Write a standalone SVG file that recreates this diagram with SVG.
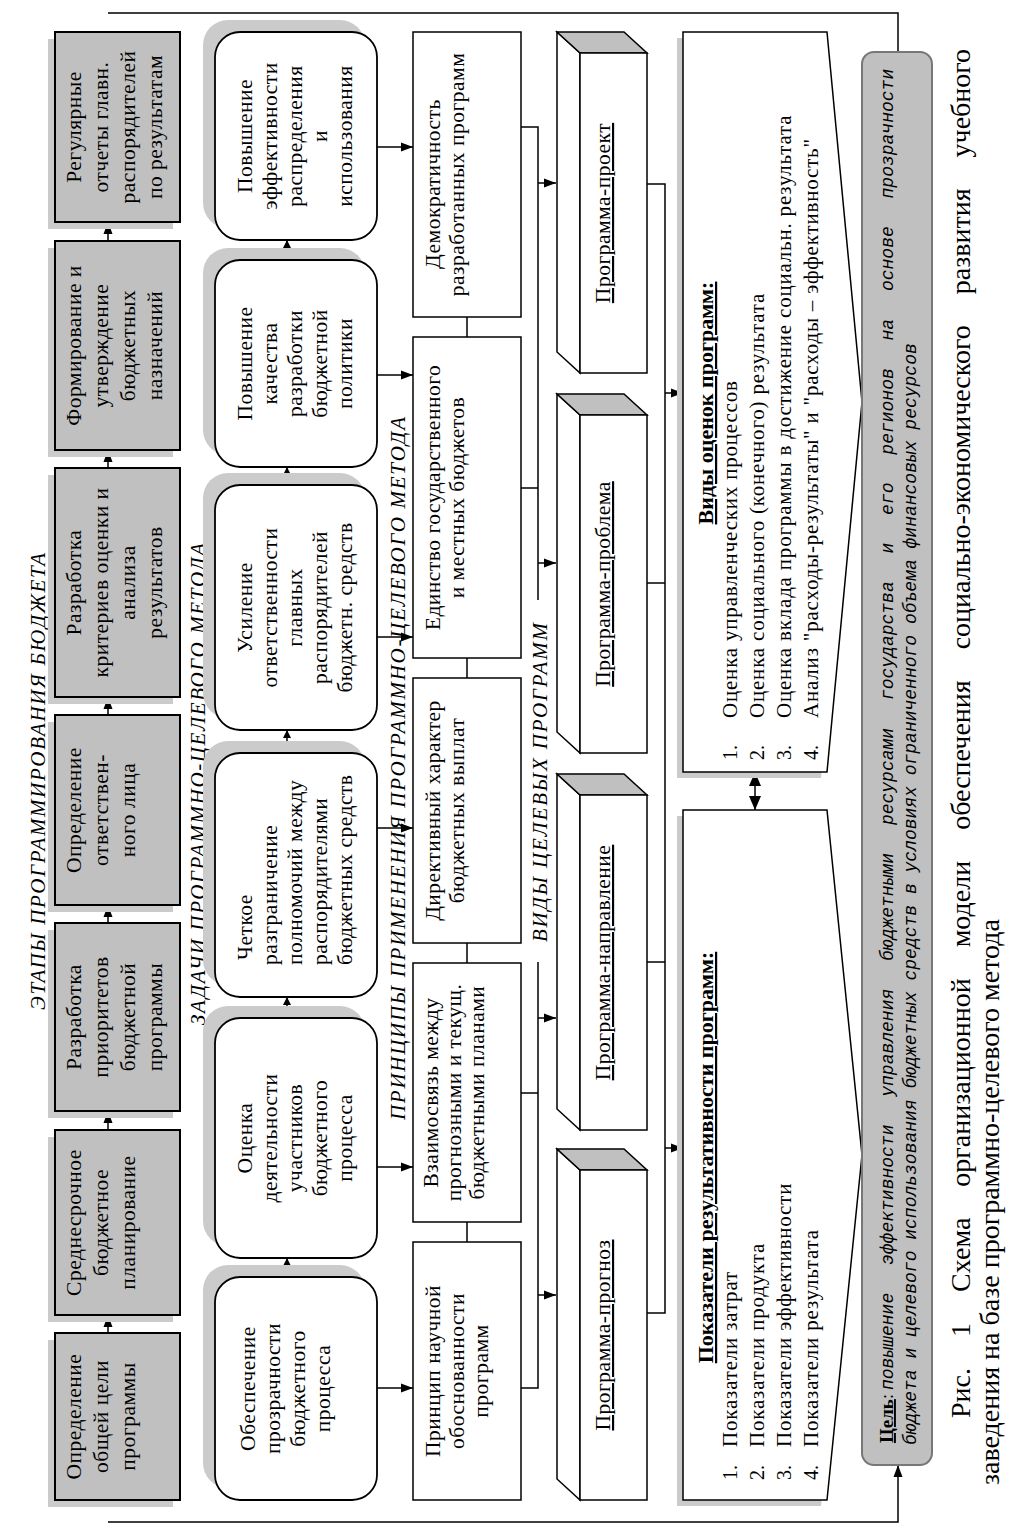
<svg xmlns="http://www.w3.org/2000/svg" width="1024" height="1536" viewBox="0 0 1024 1536">
<defs>
<style>
.stage{fill:#c0c0c0;stroke:#000;stroke-width:2}
.sh{fill:#cbcbcb}
.task{fill:#fff;stroke:#000;stroke-width:1.8}
.box{fill:#fff;stroke:#000;stroke-width:1.5}
.topf{fill:#c0c0c0;stroke:#000;stroke-width:1.5}
.goal{fill:#c0c0c0;stroke:#777;stroke-width:2}
.ln{fill:none;stroke:#000;stroke-width:1.5}
.m{font-family:"Liberation Serif","Times New Roman",serif;font-size:21.5px;letter-spacing:0.5px;fill:#000}
.mc{text-anchor:middle}
.ul{text-decoration:underline}
.lbl{font-family:"Liberation Serif",serif;font-style:italic;font-size:21px;text-anchor:middle;fill:#000}
.ttl{font-family:"Liberation Serif",serif;font-weight:bold;font-size:22px;text-decoration:underline;text-anchor:middle;fill:#000}
.num{font-family:"Liberation Serif",serif;font-size:20px;fill:#000}
.li{font-family:"Liberation Serif",serif;font-size:21px;letter-spacing:0.8px;fill:#000}
.gi{font-family:"Liberation Mono",monospace;font-style:italic;font-size:18px;fill:#000}
.cap{font-family:"Liberation Serif",serif;font-size:28px;fill:#000}
</style>
<marker id="ar" viewBox="0 0 12 10" refX="12" refY="5" markerWidth="12" markerHeight="10" markerUnits="userSpaceOnUse" orient="auto-start-reverse"><path d="M0,0.5L12,5L0,9.5z" fill="#000"/></marker>
<marker id="sm" viewBox="0 0 8 8" refX="8" refY="4" markerWidth="8" markerHeight="8" markerUnits="userSpaceOnUse" orient="auto-start-reverse"><path d="M0,0L8,4L0,8z" fill="#000"/></marker>
<marker id="bg" viewBox="0 0 14 12" refX="14" refY="6" markerWidth="14" markerHeight="12" markerUnits="userSpaceOnUse" orient="auto-start-reverse"><path d="M0,0L14,6L0,12z" fill="#000"/></marker>
</defs>
<rect width="1024" height="1536" fill="#fff"/>

<!-- section labels -->
<g id="labels" transform="translate(0 1536) rotate(-90)">
<text class="lbl" x="754.5" y="45" textLength="457" lengthAdjust="spacing">ЭТАПЫ ПРОГРАММИРОВАНИЯ БЮДЖЕТА</text>
<text class="lbl" x="752" y="205" textLength="482" lengthAdjust="spacing">ЗАДАЧИ ПРОГРАММНО-ЦЕЛЕВОГО МЕТОДА</text>
<text class="lbl" x="767.5" y="405" textLength="703" lengthAdjust="spacing">ПРИНЦИПЫ ПРИМЕНЕНИЯ ПРОГРАММНО-ЦЕЛЕВОГО МЕТОДА</text>
<text class="lbl" x="753.5" y="547" textLength="319" lengthAdjust="spacing">ВИДЫ ЦЕЛЕВЫХ ПРОГРАММ</text>
</g>

<!-- connectors -->
<g id="connectors" class="ln">
<path d="M108,13H898V52"/>
<path d="M108,1522H898V1465" marker-end="url(#ar)"/>
<path d="M108,1333V1315" marker-end="url(#ar)"/>
<path d="M108,1130V1111" marker-end="url(#ar)"/>
<path d="M108,923V905" marker-end="url(#ar)"/>
<path d="M108,715V697" marker-end="url(#ar)"/>
<path d="M108,468V450" marker-end="url(#ar)"/>
<path d="M108,241V222" marker-end="url(#ar)"/>
<path d="M287,240V260" marker-start="url(#sm)" marker-end="url(#sm)"/>
<path d="M287,467V485" marker-start="url(#sm)" marker-end="url(#sm)"/>
<path d="M287,730V753" marker-start="url(#sm)" marker-end="url(#sm)"/>
<path d="M287,997V1018" marker-start="url(#sm)" marker-end="url(#sm)"/>
<path d="M287,1258V1277" marker-start="url(#sm)" marker-end="url(#sm)"/>
<path d="M377,147H413" marker-end="url(#ar)"/>
<path d="M377,375H413" marker-end="url(#ar)"/>
<path d="M377,637H413" marker-end="url(#ar)"/>
<path d="M377,828H413" marker-end="url(#ar)"/>
<path d="M377,1167H413" marker-end="url(#ar)"/>
<path d="M377,1388H413" marker-end="url(#ar)"/>
<path d="M467,317V337M467,658V678M467,943V963M467,1222V1242"/>
<path d="M521,127H538V600M521,488H538"/>
<path d="M538,183H556" marker-end="url(#ar)"/>
<path d="M538,563H556" marker-end="url(#ar)"/>
<path d="M538,962V1388H521M521,1093H538"/>
<path d="M538,1018H556" marker-end="url(#ar)"/>
<path d="M538,1295H556" marker-end="url(#ar)"/>
<path d="M647,184H665V1313H647M647,583H665M647,962H665"/>
<path d="M665,393H683" marker-end="url(#ar)"/>
<path d="M665,1148H683" marker-end="url(#ar)"/>
<path d="M755,772V810" marker-start="url(#bg)" marker-end="url(#bg)"/>
</g>

<!-- stages -->
<g id="stage1"><rect class="sh" x="48" y="39" width="125" height="190"/><rect class="stage" x="55" y="32" width="125" height="190"/>
<text class="m mc" transform="translate(0 1536) rotate(-90)"><tspan x="1409" y="81">Регулярные</tspan><tspan x="1409" y="108">отчеты главн.</tspan><tspan x="1409" y="135">распорядителей</tspan><tspan x="1409" y="162">по результатам</tspan></text></g>
<g id="stage2"><rect class="sh" x="48" y="248" width="125" height="209"/><rect class="stage" x="55" y="241" width="125" height="209"/>
<text class="m mc" transform="translate(0 1536) rotate(-90)"><tspan x="1190.5" y="81">Формирование и</tspan><tspan x="1190.5" y="108">утверждение</tspan><tspan x="1190.5" y="135">бюджетных</tspan><tspan x="1190.5" y="162">назначений</tspan></text></g>
<g id="stage3"><rect class="sh" x="48" y="475" width="125" height="229"/><rect class="stage" x="55" y="468" width="125" height="229"/>
<text class="m mc" transform="translate(0 1536) rotate(-90)"><tspan x="953.5" y="81">Разработка</tspan><tspan x="953.5" y="108">критериев оценки и</tspan><tspan x="953.5" y="135">анализа</tspan><tspan x="953.5" y="162">результатов</tspan></text></g>
<g id="stage4"><rect class="sh" x="48" y="722" width="125" height="190"/><rect class="stage" x="55" y="715" width="125" height="190"/>
<text class="m mc" transform="translate(0 1536) rotate(-90)"><tspan x="726" y="81">Определение</tspan><tspan x="726" y="108">ответствен-</tspan><tspan x="726" y="135">ного лица</tspan></text></g>
<g id="stage5"><rect class="sh" x="48" y="930" width="125" height="188"/><rect class="stage" x="55" y="923" width="125" height="188"/>
<text class="m mc" transform="translate(0 1536) rotate(-90)"><tspan x="519" y="81">Разработка</tspan><tspan x="519" y="108">приоритетов</tspan><tspan x="519" y="135">бюджетной</tspan><tspan x="519" y="162">программы</tspan></text></g>
<g id="stage6"><rect class="sh" x="48" y="1137" width="125" height="185"/><rect class="stage" x="55" y="1130" width="125" height="185"/>
<text class="m mc" transform="translate(0 1536) rotate(-90)"><tspan x="313.5" y="81">Среднесрочное</tspan><tspan x="313.5" y="108">бюджетное</tspan><tspan x="313.5" y="135">планирование</tspan></text></g>
<g id="stage7"><rect class="sh" x="48" y="1340" width="125" height="167"/><rect class="stage" x="55" y="1333" width="125" height="167"/>
<text class="m mc" transform="translate(0 1536) rotate(-90)"><tspan x="119.5" y="81">Определение</tspan><tspan x="119.5" y="108">общей цели</tspan><tspan x="119.5" y="135">программы</tspan></text></g>

<!-- tasks -->
<g id="task1"><rect class="sh" x="203" y="20" width="162" height="208" rx="25"/><rect class="task" x="215" y="32" width="162" height="208" rx="25"/>
<text class="m mc" transform="translate(0 1536) rotate(-90)"><tspan x="1400" y="252">Повышение</tspan><tspan x="1400" y="277">эффективности</tspan><tspan x="1400" y="302">распределения</tspan><tspan x="1400" y="327">и</tspan><tspan x="1400" y="352">использования</tspan></text></g>
<g id="task2"><rect class="sh" x="203" y="248" width="162" height="207" rx="25"/><rect class="task" x="215" y="260" width="162" height="207" rx="25"/>
<text class="m mc" transform="translate(0 1536) rotate(-90)"><tspan x="1172.5" y="252">Повышение</tspan><tspan x="1172.5" y="277">качества</tspan><tspan x="1172.5" y="302">разработки</tspan><tspan x="1172.5" y="327">бюджетной</tspan><tspan x="1172.5" y="352">политики</tspan></text></g>
<g id="task3"><rect class="sh" x="203" y="473" width="162" height="245" rx="25"/><rect class="task" x="215" y="485" width="162" height="245" rx="25"/>
<text class="m mc" transform="translate(0 1536) rotate(-90)"><tspan x="928.5" y="252">Усиление</tspan><tspan x="928.5" y="277">ответственности</tspan><tspan x="928.5" y="302">главных</tspan><tspan x="928.5" y="327">распорядителей</tspan><tspan x="928.5" y="352">бюджетн. средств</tspan></text></g>
<g id="task4"><rect class="sh" x="203" y="741" width="162" height="244" rx="25"/><rect class="task" x="215" y="753" width="162" height="244" rx="25"/>
<text class="m" transform="translate(0 1536) rotate(-90)"><tspan x="576" y="252">Четкое</tspan><tspan x="571" y="277">разграничение</tspan><tspan x="571" y="302">полномочий между</tspan><tspan x="571" y="327">распорядителями</tspan><tspan x="571" y="352">бюджетных средств</tspan></text></g>
<g id="task5"><rect class="sh" x="203" y="1006" width="162" height="240" rx="25"/><rect class="task" x="215" y="1018" width="162" height="240" rx="25"/>
<text class="m mc" transform="translate(0 1536) rotate(-90)"><tspan x="398" y="252">Оценка</tspan><tspan x="398" y="277">деятельности</tspan><tspan x="398" y="302">участников</tspan><tspan x="398" y="327">бюджетного</tspan><tspan x="398" y="352">процесса</tspan></text></g>
<g id="task6"><rect class="sh" x="203" y="1265" width="162" height="223" rx="25"/><rect class="task" x="215" y="1277" width="162" height="223" rx="25"/>
<text class="m mc" transform="translate(0 1536) rotate(-90)"><tspan x="147.5" y="255">Обеспечение</tspan><tspan x="147.5" y="280">прозрачности</tspan><tspan x="147.5" y="305">бюджетного</tspan><tspan x="147.5" y="330">процесса</tspan></text></g>

<!-- principles -->
<g id="princ1"><rect class="box" x="413" y="32" width="108" height="285"/>
<text class="m mc" transform="translate(0 1536) rotate(-90)"><tspan x="1352" y="440">Демократичность</tspan><tspan x="1361.5" y="464">разработанных программ</tspan></text></g>
<g id="princ2"><rect class="box" x="413" y="337" width="108" height="321"/>
<text class="m mc" transform="translate(0 1536) rotate(-90)"><tspan x="1038.5" y="440">Единство государственного</tspan><tspan x="1038.5" y="464">и местных бюджетов</tspan></text></g>
<g id="princ3"><rect class="box" x="413" y="678" width="108" height="265"/>
<text class="m mc" transform="translate(0 1536) rotate(-90)"><tspan x="725.5" y="440">Директивный характер</tspan><tspan x="725.5" y="464">бюджетных выплат</tspan></text></g>
<g id="princ4"><rect class="box" x="413" y="963" width="108" height="259"/>
<text class="m mc" transform="translate(0 1536) rotate(-90)"><tspan x="443.5" y="438">Взаимосвязь между</tspan><tspan x="443.5" y="461">прогнозными и текущ.</tspan><tspan x="443.5" y="484">бюджетными планами</tspan></text></g>
<g id="princ5"><rect class="box" x="413" y="1242" width="108" height="258"/>
<text class="m mc" transform="translate(0 1536) rotate(-90)"><tspan x="165" y="440">Принцип научной</tspan><tspan x="165" y="464">обоснованности</tspan><tspan x="165" y="488">программ</tspan></text></g>

<!-- programs -->
<g id="prog1"><polygon class="box" points="557,32 580,53 580,373 557,352"/><polygon class="topf" points="557,32 624,32 647,53 580,53"/><rect class="box" x="580" y="53" width="67" height="320"/>
<text class="m mc ul" transform="translate(0 1536) rotate(-90)" x="1323" y="610">Программа-проект</text></g>
<g id="prog2"><polygon class="box" points="557,394 580,415 580,753 557,732"/><polygon class="topf" points="557,394 624,394 647,415 580,415"/><rect class="box" x="580" y="415" width="67" height="338"/>
<text class="m mc ul" transform="translate(0 1536) rotate(-90)" x="952" y="610">Программа-проблема</text></g>
<g id="prog3"><polygon class="box" points="557,774 580,795 580,1130 557,1109"/><polygon class="topf" points="557,774 624,774 647,795 580,795"/><rect class="box" x="580" y="795" width="67" height="335"/>
<text class="m mc ul" transform="translate(0 1536) rotate(-90)" x="573.5" y="610">Программа-направление</text></g>
<g id="prog4"><polygon class="box" points="557,1149 580,1170 580,1500 557,1479"/><polygon class="topf" points="557,1149 624,1149 647,1170 580,1170"/><rect class="box" x="580" y="1170" width="67" height="330"/>
<text class="m mc ul" transform="translate(0 1536) rotate(-90)" x="201" y="610">Программа-прогноз</text></g>

<!-- evaluation -->
<g id="eval1"><polygon class="sh" points="677,38 821,38 856,408 821,778 677,778"/><polygon class="box" points="683,32 827,32 862,402 827,772 683,772"/>
<g transform="translate(0 1536) rotate(-90)">
<text class="ttl" x="1133" y="713">Виды оценок программ:</text>
<text class="num"><tspan x="776" y="737">1.</tspan><tspan x="776" y="764">2.</tspan><tspan x="776" y="791">3.</tspan><tspan x="776" y="818">4.</tspan></text>
<text class="li"><tspan x="818" y="737">Оценка управленческих процессов</tspan><tspan x="818" y="764">Оценка социального (конечного) результата</tspan><tspan x="818" y="791">Оценка вклада программы в достижение социальн. результата</tspan><tspan x="818" y="818">Анализ "расходы-результаты" и "расходы – эффективность"</tspan></text>
</g></g>
<g id="eval2"><polygon class="sh" points="677,816 821,816 856,1161 821,1506 677,1506"/><polygon class="box" points="683,810 827,810 862,1155 827,1500 683,1500"/>
<g transform="translate(0 1536) rotate(-90)">
<text class="ttl" x="378.5" y="713">Показатели результативности программ:</text>
<text class="num"><tspan x="56" y="737">1.</tspan><tspan x="56" y="764">2.</tspan><tspan x="56" y="791">3.</tspan><tspan x="56" y="818">4.</tspan></text>
<text class="li"><tspan x="89" y="737">Показатели затрат</tspan><tspan x="89" y="764">Показатели продукта</tspan><tspan x="89" y="791">Показатели эффективности</tspan><tspan x="89" y="818">Показатели результата</tspan></text>
</g></g>

<!-- goal -->
<g id="goal"><rect class="goal" x="862" y="52" width="70" height="1413" rx="12"/>
<g transform="translate(0 1536) rotate(-90)">
<text class="gi" y="893"><tspan x="93" style="font-family:'Liberation Serif',serif;font-style:normal;font-weight:bold;font-size:19px;text-decoration:underline">Цель</tspan><tspan style="font-family:'Liberation Serif',serif;font-style:normal">:</tspan><tspan x="146" style="word-spacing:17px">повышение эффективности управления бюджетными ресурсами государства и его регионов на основе прозрачности</tspan></text>
<text class="gi" x="91" y="916">бюджета и целевого использования бюджетных средств в условиях ограниченного объема финансовых ресурсов</text>
</g></g>

<!-- caption -->
<g id="caption" transform="translate(0 1536) rotate(-90)">
<text class="cap" x="118" y="970" style="word-spacing:24px">Рис. 1 Схема организационной модели обеспечения социально-экономического развития учебного</text>
<text class="cap" x="51" y="999">заведения на базе программно-целевого метода</text>
</g>
</svg>
